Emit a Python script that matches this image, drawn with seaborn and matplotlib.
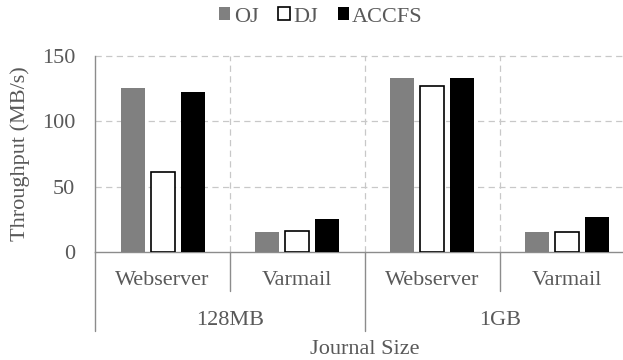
import matplotlib
matplotlib.use("Agg")
import matplotlib.pyplot as plt
import matplotlib.transforms as mtransforms
from matplotlib.patches import Patch
import pandas as pd
import seaborn as sns

# Throughput (MB/s) per journaling scheme
journal_sizes = ["128MB", "1GB"]
workloads = ["Webserver", "Varmail"]
schemes = ["OJ", "DJ", "ACCFS"]
oj = [125.2, 15.6, 133.3, 15.4]
dj = [61.0, 16.4, 127.4, 15.4]
accfs = [122.5, 25.1, 132.8, 26.7]
yticks = [0, 50, 100, 150]

fills = {"OJ": "#808080", "DJ": "#ffffff", "ACCFS": "#000000"}
text_color = "#595959"
axis_color = "#8c8c8c"
grid_color = "#c8c8c8"

groups = [f"{j}|{w}" for j in journal_sizes for w in workloads]
rows = []
for name, vals in zip(schemes, [oj, dj, accfs]):
    for g, v in zip(groups, vals):
        rows.append({"group": g, "scheme": name, "throughput": v})
df = pd.DataFrame(rows)

sns.set_theme(style="white")
plt.rcParams["font.family"] = ["Liberation Serif", "DejaVu Serif"]
fs = 16

fig = plt.figure(figsize=(6.23, 3.6), dpi=100)
ax = fig.add_axes([95.2 / 623, 1 - 252 / 360, (634.5 - 95.2) / 623, 196 / 360])

sns.barplot(data=df, x="group", y="throughput", hue="scheme",
            order=groups, hue_order=schemes, palette=fills,
            width=0.667, gap=0.2, legend=False, ax=ax, zorder=3)

for name, cont in zip(schemes, ax.containers):
    for bar in cont:
        if name == "DJ":
            bar.set_edgecolor("#000000")
            bar.set_linewidth(1.2)
        else:
            bar.set_edgecolor(fills[name])
            bar.set_linewidth(0)

ax.set_xlim(-0.5, len(groups) - 0.5)
ax.set_ylim(0, 150)
ax.set_yticks(yticks)
ax.set_yticklabels([str(t) for t in yticks])
ax.set_xticks([])

dash = (0, (5, 3.5))
ax.set_axisbelow(True)
for t in yticks[1:]:
    ax.axhline(t, color=grid_color, lw=0.9, linestyle=dash, zorder=0, clip_on=False)
for x in [0.5, 1.5, 2.5, 3.5]:
    ax.axvline(x, color=grid_color, lw=0.9, linestyle=dash, zorder=0)

for side in ["top", "right"]:
    ax.spines[side].set_visible(False)
for side in ["left", "bottom"]:
    ax.spines[side].set_color(axis_color)
    ax.spines[side].set_linewidth(1.0)

ax.tick_params(axis="y", direction="out", length=4.5, width=1.0,
               color=axis_color, labelcolor=text_color, labelsize=fs, pad=10)

# Two-level category axis below the plot
trans = mtransforms.blended_transform_factory(ax.transData, ax.transAxes)
for x in [0.5, 2.5]:
    ax.plot([x, x], [0, -0.2], transform=trans, color=axis_color, lw=1.0, clip_on=False)
for x in [-0.5, 1.5, 3.5]:
    ax.plot([x, x], [0, -0.403], transform=trans, color=axis_color, lw=1.0, clip_on=False)

for i, g in enumerate(groups):
    ax.text(i, -0.143, g.split("|")[1], transform=trans, ha="center", va="center",
            fontsize=fs, color=text_color)
for k, j in enumerate(journal_sizes):
    ax.text(2 * k + 0.5, -0.352, j, transform=trans, ha="center", va="center",
            fontsize=fs, color=text_color)

ax.set_xlabel("Journal Size", fontsize=fs, color=text_color)
ax.xaxis.set_label_coords(0.5, -(349 - 252) / 196)
ax.xaxis.label.set_va("center")

ax.set_ylabel("Throughput (MB/s)", fontsize=fs, color=text_color)
ax.yaxis.set_label_coords((20 - 95.2) / 539.3, 0.5)
ax.yaxis.label.set_va("center")

handles = [Patch(facecolor=fills[s], edgecolor="#000000" if s == "DJ" else fills[s],
                 linewidth=1.2 if s == "DJ" else 0) for s in schemes]
fig.legend(handles, schemes, loc="center", bbox_to_anchor=(321 / 623, 1 - 17 / 360),
           ncol=3, frameon=False, fontsize=fs, labelcolor=text_color,
           handlelength=0.5, handleheight=0.5, handletextpad=0.15, columnspacing=0.9)

fig.savefig("out.png", dpi=100)
